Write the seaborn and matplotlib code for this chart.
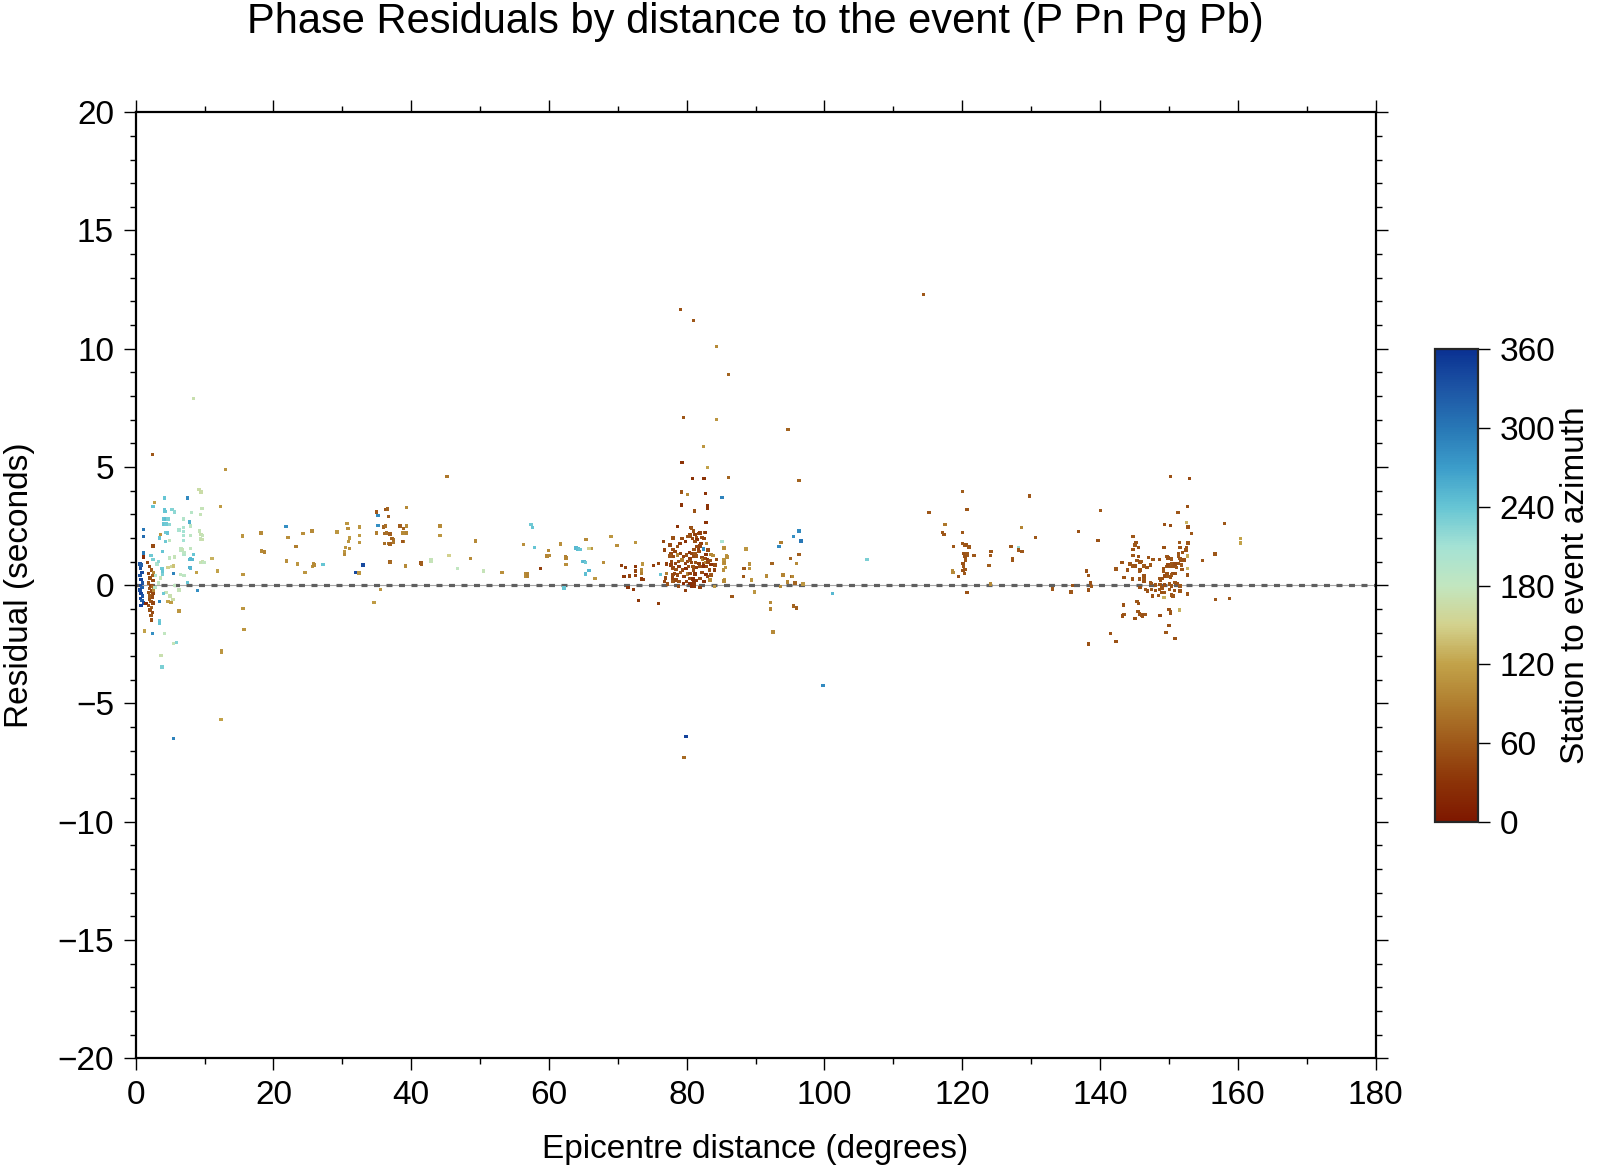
import numpy as np
import pandas as pd
import matplotlib
matplotlib.use("Agg")
import matplotlib.pyplot as plt
import seaborn as sns
from matplotlib.colors import LinearSegmentedColormap, Normalize
from matplotlib.ticker import MultipleLocator

# (distance deg, residual s, station->event azimuth deg)
near = [
    (0.6, 0.90, 330), (0.8, 0.85, 320), (0.7, 0.70, 335), (0.9, 0.55, 340), (0.6, 0.40, 330),
    (0.8, 0.25, 345), (1.0, 0.10, 330), (0.7, 0.00, 340), (0.9, -0.10, 320), (0.6, -0.20, 335),
    (0.8, -0.35, 345), (1.0, -0.45, 330), (0.7, -0.55, 340), (0.9, -0.65, 320), (1.1, -0.75, 335),
    (0.8, -0.85, 345), (1.1, 2.36, 300), (1.1, 2.06, 310), (1.1, 1.36, 300), (1.1, 1.20, 20),
    (1.7, 0.95, 50), (1.5, -0.78, 20),
    (2.0, 0.78, 50), (2.3, 0.65, 60), (1.9, 0.50, 45), (2.4, 0.40, 65), (2.1, 0.30, 55),
    (2.5, 0.20, 50), (1.9, 0.10, 60), (2.2, 0.00, 45), (2.4, -0.05, 70), (2.0, -0.15, 55),
    (2.3, -0.25, 50), (1.9, -0.30, 60), (2.5, -0.35, 45), (2.1, -0.45, 65), (2.4, -0.50, 50),
    (2.0, -0.60, 55), (2.2, -0.70, 60), (2.5, -0.75, 45), (1.9, -0.85, 50), (2.3, -0.95, 65),
    (2.1, -1.05, 55), (2.4, -1.15, 50), (2.2, -1.27, 60), (2.3, -1.47, 50), (2.6, 0.55, 100),
    (2.6, -0.20, 100),
    (2.4, 5.52, 60), (13.0, 4.90, 110), (2.7, 3.50, 120), (4.15, 3.69, 240), (7.5, 3.69, 285),
    (9.2, 4.05, 165), (9.5, 3.95, 165), (12.3, 3.33, 115), (2.5, 3.33, 240), (4.2, 3.18, 240),
    (4.25, 3.12, 240), (5.3, 3.20, 225), (5.6, 3.10, 220), (8.1, 3.07, 190), (9.6, 3.25, 175),
    (9.4, 2.98, 175), (6.9, 2.80, 195), (4.0, 2.80, 240), (4.3, 2.80, 245), (4.7, 2.80, 230),
    (4.1, 2.59, 240), (4.4, 2.59, 235), (4.9, 2.57, 220), (7.8, 2.67, 255), (6.9, 2.45, 200),
    (8.0, 2.50, 185), (9.3, 2.30, 175), (9.5, 2.15, 170), (9.7, 2.10, 175), (4.3, 2.24, 235),
    (3.6, 2.15, 110), (4.6, 2.20, 240), (3.5, 2.00, 240), (6.3, 2.33, 205), (6.9, 2.28, 210),
    (6.9, 2.10, 205), (6.9, 1.90, 210), (8.0, 2.10, 185), (9.4, 1.95, 175), (9.6, 1.93, 170),
    (4.3, 1.85, 235), (4.9, 1.88, 180), (2.5, 1.66, 50), (2.2, 1.25, 235), (2.5, 1.10, 230),
    (3.9, 1.43, 240), (4.9, 1.15, 180), (5.6, 1.20, 175), (6.5, 1.48, 185), (6.6, 1.53, 180),
    (6.8, 1.50, 175), (7.0, 1.30, 195), (7.0, 1.38, 185), (7.8, 1.10, 250), (8.0, 1.12, 245),
    (8.2, 1.10, 250), (8.0, 1.55, 180), (8.4, 1.30, 240), (9.5, 0.95, 175), (9.7, 1.00, 170),
    (9.9, 0.97, 180), (11.1, 1.14, 130), (11.85, 0.60, 120), (3.8, 0.70, 235), (3.9, 0.60, 240),
    (3.9, 0.45, 230), (4.7, 0.75, 150), (5.2, 0.80, 160), (5.5, 0.82, 140), (6.5, 0.45, 180),
    (6.9, 0.40, 175), (7.0, 0.42, 185), (7.9, 0.75, 255), (8.0, 0.70, 250), (8.85, 0.53, 120),
    (5.5, 0.50, 290), (7.5, 0.12, 240), (3.5, -0.70, 290), (3.45, -1.50, 235), (3.5, -1.60, 240),
    (1.25, -1.94, 120), (2.4, -2.03, 280), (4.2, -2.05, 180), (6.3, -1.09, 110), (4.7, -0.70, 120),
    (5.1, -0.72, 115), (4.4, -0.30, 175), (5.0, -0.45, 170), (5.4, -0.60, 165), (4.0, -0.35, 235),
    (5.6, 0.00, 180), (6.3, -0.20, 175), (3.3, 0.10, 180), (3.6, 0.30, 175), (2.9, 0.40, 200),
    (2.8, -0.10, 190), (8.95, -0.22, 280), (5.5, -2.47, 175), (5.9, -2.42, 225), (3.7, -2.98, 170),
    (3.8, -3.46, 230), (12.5, -2.75, 110), (12.5, -2.85, 110), (12.4, -5.67, 120), (5.5, -6.49, 290),
    (8.4, 7.89, 170), (3.1, 0.90, 200), (3.3, 1.00, 220),
]

middle = [
    (15.5, 2.09, 110), (18.2, 2.20, 100), (21.8, 2.49, 280), (24.3, 2.18, 105), (25.6, 2.29, 100),
    (29.2, 2.25, 110), (22.1, 2.03, 105), (23.3, 1.64, 90), (18.3, 1.45, 100), (18.7, 1.40, 95),
    (23.5, 0.92, 110), (23.5, 0.88, 110), (25.8, 0.90, 105), (25.7, 0.80, 110), (25.9, 0.85, 100),
    (21.9, 1.02, 105), (24.6, 0.53, 110), (27.2, 0.88, 240), (33.0, 0.85, 340), (32.0, 0.53, 340),
    (32.4, 0.52, 110), (15.6, 0.46, 110), (30.7, 2.60, 110), (30.8, 2.40, 105), (31.0, 2.00, 115),
    (30.5, 1.60, 110), (31.0, 1.55, 105), (30.3, 1.40, 110), (30.3, 1.30, 100), (30.9, 1.85, 110),
    (32.5, 2.46, 110), (32.5, 2.10, 115), (32.5, 1.80, 110), (35.0, 3.10, 60), (35.2, 2.95, 285),
    (36.3, 3.20, 60), (36.6, 3.22, 70), (36.7, 2.90, 65), (39.3, 3.28, 100), (35.2, 2.52, 280),
    (36.0, 2.46, 70), (36.3, 2.50, 80), (36.1, 2.19, 75), (36.4, 2.20, 80), (36.9, 2.17, 65),
    (37.3, 1.97, 75), (37.4, 1.93, 80), (37.1, 1.97, 70), (36.8, 1.77, 80), (36.9, 1.75, 70),
    (37.4, 1.80, 85), (36.1, 1.77, 80), (38.8, 1.84, 90), (38.4, 2.50, 65), (38.9, 2.40, 70),
    (39.3, 2.50, 100), (39.3, 2.20, 95), (38.8, 2.20, 100), (35.0, 2.20, 90), (36.9, 0.98, 70),
    (37.0, 0.95, 75), (39.2, 0.81, 100), (38.7, 1.84, 60), (41.4, 0.94, 60), (41.5, 0.90, 65),
    (42.9, 1.10, 175), (42.9, 1.00, 175), (44.2, 2.50, 100), (35.5, -0.18, 110), (34.6, -0.74, 115),
    (15.6, -0.98, 110), (15.7, -1.88, 110),
    (45.2, 4.59, 85), (44.2, 2.10, 110), (45.5, 1.26, 150), (49.3, 1.87, 100), (48.6, 1.14, 100),
    (46.7, 0.71, 180), (50.5, 0.61, 175), (53.2, 0.53, 105), (56.3, 1.73, 105), (56.6, 0.47, 100),
    (56.9, 0.47, 95), (56.6, 0.38, 100), (56.9, 0.38, 95), (57.4, 2.56, 235), (57.6, 2.45, 240),
    (57.9, 1.59, 240), (58.8, 0.71, 40), (59.7, 1.24, 95), (60.0, 1.26, 100), (59.9, 1.47, 100),
    (61.7, 1.74, 105), (62.4, 1.20, 90), (62.5, 1.15, 95), (62.5, 0.88, 105), (62.2, -0.12, 240),
    (63.9, 1.57, 250), (64.2, 1.54, 245), (64.5, 1.50, 240), (64.9, 1.00, 245), (65.1, 1.00, 250),
    (65.3, 0.95, 235), (65.3, 0.47, 245), (65.8, 0.62, 250), (65.4, 1.94, 100), (66.1, 1.56, 110),
    (65.8, 1.55, 150),
]

eighty = [
    (66.7, 0.29, 110), (67.9, 0.95, 105), (69.0, 2.05, 110), (69.9, 1.69, 105), (72.6, 1.80, 110),
    (70.5, 0.84, 40), (71.1, 0.76, 40), (70.9, 0.36, 35), (71.7, 0.39, 45), (72.6, 0.42, 40),
    (72.6, 0.60, 45), (72.6, 0.78, 35), (73.4, 0.65, 100), (73.4, 0.50, 90), (73.6, 0.90, 110),
    (73.7, 0.25, 40), (73.4, 0.27, 35), (71.5, -0.10, 30), (72.3, -0.19, 35), (73.0, -0.65, 35),
    (75.9, -0.77, 40), (75.2, 0.84, 40), (75.9, 0.92, 45), (76.2, 0.46, 240), (76.6, 1.84, 45),
    (76.8, 1.49, 45), (77.1, 0.90, 40), (76.9, 0.30, 50), (76.8, 0.15, 45), (77.2, 0.05, 55),
    (77.1, 0.50, 90), (77.6, 1.70, 50), (78.0, 2.00, 55), (77.7, 1.35, 45), (77.7, 0.85, 40),
    (78.0, 0.70, 55), (78.0, 0.45, 50), (77.9, 0.30, 45), (78.0, 0.15, 60),
    (78.0, 1.52, 50), (78.3, 1.42, 45), (78.65, 1.63, 55), (79.0, 1.77, 40), (79.3, 1.98, 50),
    (79.8, 1.84, 30), (80.2, 2.05, 55), (80.5, 2.12, 45), (77.6, 1.24, 60), (78.1, 1.21, 50),
    (78.65, 1.28, 95), (79.1, 1.35, 45), (79.5, 1.21, 40), (80.0, 1.28, 55), (80.4, 1.38, 30),
    (77.8, 1.00, 50), (78.35, 0.93, 45), (78.8, 1.00, 55), (79.3, 1.07, 90), (79.8, 0.93, 40),
    (80.1, 1.00, 50), (80.5, 1.07, 60), (78.0, 0.76, 45), (78.45, 0.67, 55), (78.9, 0.78, 40),
    (79.4, 0.64, 50), (79.9, 0.71, 25), (80.3, 0.78, 55), (78.2, 0.50, 45), (78.65, 0.43, 50),
    (79.1, 0.53, 60), (79.6, 0.36, 40), (80.1, 0.47, 95), (80.5, 0.29, 50), (78.45, 0.22, 45),
    (78.9, 0.15, 55), (79.5, 0.08, 25), (80.0, 0.15, 45), (80.5, 0.08, 25), (78.8, -0.06, 50),
    (79.8, -0.23, 40), (81.0, 0.15, 25), (81.1, -0.06, 30),
    (80.6, 2.43, 50), (80.95, 2.31, 45), (80.5, 2.08, 55), (81.2, 2.15, 40), (81.8, 2.18, 50),
    (82.65, 2.22, 60), (80.86, 1.98, 45), (81.4, 2.02, 55), (81.5, 1.94, 30), (82.2, 2.01, 50),
    (82.5, 1.97, 45), (81.2, 1.84, 55), (82.1, 1.77, 40), (82.9, 1.77, 95), (81.4, 1.63, 50),
    (81.9, 1.66, 45), (81.05, 1.52, 55), (81.7, 1.49, 40), (82.45, 1.53, 280), (83.1, 1.49, 50),
    (80.7, 1.35, 45), (81.2, 1.32, 60), (81.8, 1.42, 50), (82.8, 1.30, 30), (83.5, 1.29, 95),
    (83.8, 1.26, 100), (80.5, 1.14, 40), (81.05, 1.21, 50), (81.4, 1.23, 55), (82.2, 1.18, 45),
    (82.3, 1.09, 90), (82.65, 1.14, 50), (83.0, 1.09, 30), (83.4, 1.04, 55), (84.3, 1.09, 50),
    (80.7, 0.95, 45), (81.3, 0.95, 55), (81.8, 0.92, 40), (82.4, 0.90, 50), (82.8, 0.95, 95),
    (83.1, 0.99, 45), (83.5, 0.88, 30), (84.1, 0.85, 50), (80.9, 0.78, 55), (81.4, 0.76, 40),
    (81.9, 0.78, 50), (82.4, 0.81, 25), (82.9, 0.78, 45), (83.3, 0.64, 55), (84.0, 0.64, 40),
    (80.95, 0.64, 50), (80.5, 0.50, 45), (81.2, 0.47, 30), (82.2, 0.53, 50), (82.8, 0.46, 25),
    (83.0, 0.36, 45), (83.5, 0.43, 55), (80.9, 0.26, 25), (81.4, 0.19, 30), (81.9, 0.29, 50),
    (82.5, 0.15, 25), (81.05, 0.08, 30), (80.7, -0.06, 25), (81.9, -0.09, 40), (83.4, 0.22, 100),
    (84.0, -0.06, 110),
    (79.1, 11.67, 55), (81.0, 11.20, 60), (84.3, 10.10, 100), (86.1, 8.90, 70), (79.5, 7.08, 60),
    (84.3, 7.00, 110), (94.7, 6.58, 70), (82.4, 5.87, 110), (79.3, 5.20, 30), (83.0, 4.97, 120),
    (80.8, 4.52, 30), (82.5, 4.52, 30), (86.1, 4.55, 70), (96.3, 4.43, 70), (79.2, 3.95, 55),
    (80.1, 3.83, 100), (82.7, 3.87, 30), (85.1, 3.72, 290), (79.2, 3.40, 30), (83.0, 3.35, 30),
    (83.0, 3.25, 30), (81.1, 3.14, 55), (82.8, 2.66, 30), (78.7, 2.49, 30), (80.7, 2.40, 60),
    (81.0, 2.30, 55), (81.9, 2.20, 40), (82.7, 2.22, 35),
    (85.4, 1.07, 110), (85.4, 0.93, 105), (85.5, 0.95, 100), (85.6, 0.76, 110), (85.3, 0.64, 105),
    (85.5, 0.22, 110), (85.4, 0.18, 100), (85.1, 1.84, 205), (85.3, 1.55, 110), (85.4, 1.57, 105),
    (85.8, 1.25, 110), (85.85, 1.20, 105), (88.6, 1.53, 110), (89.1, 0.90, 105), (89.1, 0.70, 110),
    (88.3, 0.71, 60), (88.2, 0.36, 60), (89.4, 0.22, 110), (86.6, -0.47, 60), (89.8, -0.29, 110),
    (92.4, 0.93, 70), (91.6, 0.39, 100), (92.2, -0.74, 100), (92.2, -1.01, 95), (92.5, -1.97, 100),
    (93.7, 1.81, 90), (93.4, 1.63, 285), (95.1, 1.14, 70), (95.9, 0.93, 100), (96.3, 1.31, 65),
    (95.5, 2.05, 280), (96.3, 2.30, 285), (96.6, 1.87, 300), (94.0, 0.44, 95), (95.2, 0.36, 70),
    (95.4, 0.38, 100), (94.6, 0.14, 95), (95.7, 0.10, 70), (93.6, -0.05, 100), (95.5, -0.88, 70),
    (95.9, -0.96, 65), (96.9, 0.05, 110), (101.2, -0.34, 250), (106.2, 1.08, 230), (99.8, -4.25, 285),
    (79.9, -6.40, 345), (79.6, -7.28, 75), (114.4, 12.30, 60),
]

far = [
    (115.2, 3.07, 60), (117.5, 2.57, 85), (117.1, 2.24, 60), (117.35, 2.14, 60), (118.7, 1.64, 60),
    (118.6, 0.60, 100), (118.65, 0.53, 100), (119.5, 0.36, 55), (120.0, 3.97, 65), (120.7, 3.21, 60),
    (120.0, 2.24, 60), (120.0, 1.77, 60), (120.3, 1.70, 60), (120.6, 1.70, 55), (121.0, 1.62, 60),
    (120.2, 1.35, 55), (120.7, 1.35, 60), (120.7, 1.28, 60), (120.4, 1.21, 55), (120.5, 1.07, 60),
    (120.1, 0.93, 55), (120.2, 0.79, 60), (120.4, 0.67, 60), (120.1, 0.62, 55), (120.3, 0.50, 60),
    (121.7, 1.26, 60), (120.7, -0.30, 55), (124.2, 1.42, 60), (124.1, 1.26, 60), (123.9, 0.83, 65),
    (124.1, 0.05, 100), (127.1, 1.64, 60), (128.15, 1.60, 220), (128.2, 1.49, 60), (127.3, 1.12, 60),
    (127.3, 1.06, 60), (128.7, 1.43, 60), (128.6, 2.45, 95), (129.8, 3.77, 60), (130.6, 2.02, 60),
    (133.1, -0.16, 60), (135.8, -0.29, 60), (136.0, -0.02, 55), (136.9, 2.26, 55), (140.05, 3.15, 60),
    (139.7, 1.90, 55), (138.0, 0.60, 55), (138.3, 0.40, 60), (138.6, 0.10, 55), (138.8, -0.06, 60),
    (138.3, -0.20, 55), (138.3, -2.48, 55), (141.5, -2.05, 55), (142.3, -2.38, 55), (142.3, 0.69, 60),
]

antipode = [
    (150.2, 4.59, 55), (153.0, 4.52, 50), (152.7, 3.32, 55), (151.3, 3.08, 60), (149.4, 2.57, 55),
    (150.2, 2.53, 50), (152.6, 2.64, 130), (152.8, 2.46, 55), (153.3, 2.19, 60), (158.1, 2.62, 60),
    (160.4, 1.97, 120), (160.4, 1.78, 120), (144.8, 2.05, 60), (145.2, 1.80, 55), (145.1, 1.70, 60),
    (144.8, 1.52, 55), (144.8, 1.25, 60), (145.6, 1.60, 55), (149.3, 1.60, 55), (151.5, 1.80, 60),
    (151.6, 1.60, 55), (152.8, 1.78, 60), (152.6, 1.60, 55), (152.5, 1.49, 60), (152.0, 1.38, 55),
    (156.7, 1.32, 60), (154.9, 1.05, 60), (152.7, 1.24, 125),
    (143.2, 0.95, 55), (144.35, 0.90, 60), (143.95, 0.64, 55), (144.7, 0.81, 60), (145.1, 0.81, 55),
    (145.4, 1.04, 60), (145.8, 0.98, 55), (146.05, 1.01, 60), (145.55, 1.21, 55), (146.4, 0.81, 60),
    (146.8, 0.76, 55), (147.3, 0.86, 60), (147.0, 1.16, 55), (147.7, 1.09, 60), (148.6, 1.09, 55),
    (143.5, 0.33, 55), (144.7, 0.29, 60), (144.7, 0.25, 55), (145.7, 0.26, 60), (146.4, 0.39, 55),
    (146.4, 0.22, 60), (146.4, 0.17, 55), (145.7, 0.57, 60), (145.8, 0.64, 55),
    (149.2, 0.71, 55), (149.7, 0.78, 60), (149.9, 0.85, 50), (150.2, 0.78, 55), (150.4, 0.90, 60),
    (150.6, 0.81, 55), (150.9, 0.90, 50), (151.1, 0.76, 60), (151.4, 0.93, 55), (149.7, 1.21, 60),
    (149.9, 1.15, 55), (150.2, 1.12, 50), (150.4, 1.11, 60), (151.7, 1.07, 55), (151.6, 1.14, 60),
    (152.2, 1.07, 55), (151.8, 0.85, 60), (151.9, 0.67, 55), (152.7, 0.70, 130), (151.4, 1.35, 55),
    (151.4, 1.24, 60), (150.9, 0.50, 55), (150.6, 0.50, 50), (150.4, 0.43, 60), (150.2, 0.33, 55),
    (149.9, 0.36, 60), (149.7, 0.50, 55), (149.2, 0.57, 60), (149.1, 0.29, 55), (149.4, 0.39, 50),
    (148.6, 0.29, 60), (148.8, 0.19, 55), (148.1, 0.01, 60), (147.5, 0.08, 55), (147.35, 0.11, 60),
    (148.7, 0.04, 55), (149.4, 0.01, 50), (150.1, 0.05, 60), (150.4, -0.03, 55), (150.9, 0.11, 60),
    (151.2, 0.08, 55), (151.6, -0.03, 60), (152.7, 0.43, 55),
    (145.8, -0.10, 55), (146.6, -0.17, 60), (146.9, -0.24, 55), (147.5, -0.17, 60), (148.1, -0.23, 55),
    (148.6, -0.17, 60), (149.0, -0.12, 55), (149.3, -0.32, 60), (148.9, -0.32, 55), (148.5, -0.43, 60),
    (147.6, -0.46, 55), (150.1, -0.17, 60), (150.8, -0.23, 55), (151.6, -0.24, 60), (152.7, -0.34, 55),
    (152.7, -0.40, 60), (150.4, -0.41, 55), (150.6, -0.46, 60), (149.3, -0.51, 130), (156.8, -0.61, 60),
    (158.8, -0.57, 60),
    (143.4, -0.84, 55), (143.5, -1.23, 60), (143.3, -1.30, 55), (145.4, -0.70, 60), (145.6, -0.77, 55),
    (145.5, -1.12, 60), (145.7, -1.22, 55), (146.1, -1.26, 60), (146.2, -1.30, 55), (146.6, -1.23, 60),
    (145.1, -1.40, 55), (148.7, -1.29, 50), (150.0, -1.02, 55), (150.2, -1.12, 60), (150.2, -1.19, 55),
    (151.5, -1.05, 130), (150.0, -1.71, 55), (149.6, -1.99, 60), (150.9, -2.25, 55),
]

cbar_ticks = [0, 60, 120, 180, 240, 300, 360]

rows = near + middle + eighty + far + antipode
df = pd.DataFrame(rows, columns=["distance", "residual", "azimuth"])

# roma-like palette, brown (0) -> pale -> cyan -> blue (360)
roma = LinearSegmentedColormap.from_list("roma_like", [
    (0.000, "#7e1700"), (0.083, "#8c3307"), (0.167, "#9e5819"), (0.250, "#b07e2f"),
    (0.333, "#c2a249"), (0.417, "#d3d28e"), (0.500, "#c2e6c0"), (0.583, "#a4e2d4"),
    (0.667, "#66c5d4"), (0.750, "#3c9dca"), (0.833, "#2878b6"), (0.917, "#1d55a5"),
    (1.000, "#0a3192"),
])
norm = Normalize(0, 360)

sns.set_style("ticks")
plt.rcParams["font.family"] = ["Liberation Sans", "DejaVu Sans"]
plt.rcParams["lines.scale_dashes"] = False
plt.rcParams["text.color"] = "black"
plt.rcParams["axes.labelcolor"] = "black"
plt.rcParams["xtick.color"] = "black"
plt.rcParams["ytick.color"] = "black"

fig = plt.figure(figsize=(16, 11.68), dpi=100)
ax = fig.add_axes([0.0848, 0.0940, 0.7749, 0.8099])

# zero line: thin light grey line under grey dashes
ax.axhline(0, color="#a8a8a8", lw=0.8, zorder=1)
ax.axhline(0, color="#5f5f5f", lw=2.3, dashes=(4.3, 4.7), zorder=1)

sns.scatterplot(data=df, x="distance", y="residual", hue="azimuth", palette=roma,
                hue_norm=norm, marker="s", s=6, linewidth=0, legend=False, ax=ax, zorder=3)

ax.set_xlim(0, 180)
ax.set_ylim(-20, 20)
ax.xaxis.set_major_locator(MultipleLocator(20))
ax.xaxis.set_minor_locator(MultipleLocator(10))
ax.yaxis.set_major_locator(MultipleLocator(5))
ax.yaxis.set_minor_locator(MultipleLocator(1))
ax.tick_params(which="both", direction="out", top=True, right=True, width=1.0, color="black",
               labelsize=24, labelcolor="black")
ax.tick_params(which="major", length=8.6, pad=7)
ax.tick_params(which="minor", length=4.3)
for s in ax.spines.values():
    s.set_linewidth(1.6)
    s.set_color("black")

ax.set_xlabel("Epicentre distance (degrees)", fontsize=24, labelpad=17)
ax.set_ylabel("Residual (seconds)", fontsize=24, labelpad=16)
fig.text(0.4723, 0.9717, "Phase Residuals by distance to the event (P Pn Pg Pb)",
         fontsize=30, ha="center", va="baseline")

cax = fig.add_axes([0.8969, 0.2962, 0.0269, 0.4050])
sm = plt.cm.ScalarMappable(cmap=roma, norm=norm)
cb = fig.colorbar(sm, cax=cax, ticks=cbar_ticks)
cb.outline.set_linewidth(1.6)
cb.ax.tick_params(direction="out", length=8.6, width=1.0, labelsize=24, pad=7, colors="black")
cb.set_label("Station to event azimuth", fontsize=24, labelpad=3)

fig.savefig("out.png", dpi=100)
